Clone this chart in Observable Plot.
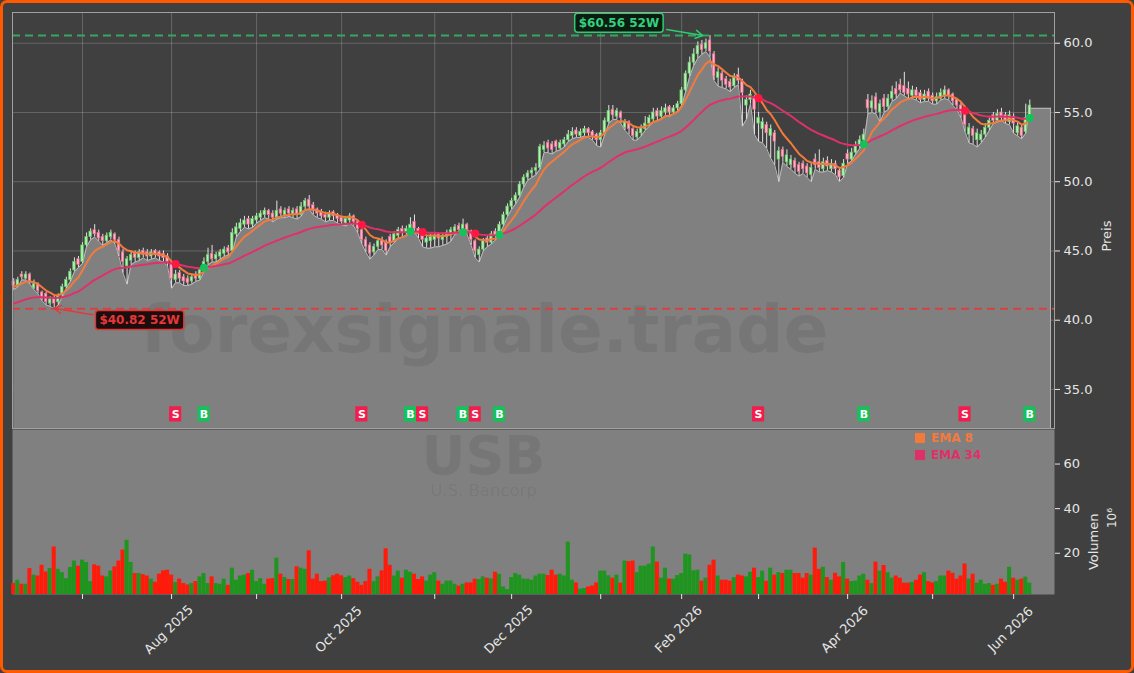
<!DOCTYPE html>
<html><head><meta charset="utf-8">
<script src="https://cdn.jsdelivr.net/npm/d3@7"></script>
<script src="https://cdn.jsdelivr.net/npm/@observablehq/plot@0.6"></script>
<style>
html,body{margin:0;padding:0;background:#404040;}
#fig{position:relative;width:1134px;height:673px;background:#404040;overflow:hidden;font-family:"DejaVu Sans",sans-serif;}
#fig svg{position:absolute;left:0;}
#border{position:absolute;left:0;top:0;width:1134px;height:673px;box-sizing:border-box;border:3px solid #ff5a00;border-radius:7px;pointer-events:none;}
.leg{position:absolute;left:915px;font-weight:bold;font-size:12px;display:flex;align-items:center;line-height:12px;}
.leg i{display:inline-block;width:10px;height:10px;margin-right:6px;}
</style></head><body><div id="fig"></div>
<script>
// ---------- data ----------
const firstDay = "2025-06-05";
const holidays = ["2025-06-19","2025-07-04","2025-09-01","2025-11-27","2025-12-25","2026-01-01","2026-01-19","2026-02-16","2026-04-03","2026-05-25"];
const open = [
42.8,42.5,43.3,43.0,43.3,42.3,42.6,42.0,41.9,41.2,
41.6,41.3,41.8,42.4,42.9,43.6,44.4,44.2,45.4,46.0,
46.5,46.3,46.0,45.7,46.0,46.2,45.8,44.9,43.9,44.3,
44.8,44.5,45.0,44.9,44.6,45.0,44.9,44.8,44.6,44.0,
42.9,43.4,43.1,43.0,42.8,43.3,43.0,43.6,44.2,44.8,
44.4,44.6,44.8,45.2,45.0,46.2,46.6,46.9,47.3,46.9,
47.2,47.4,47.6,47.9,47.7,47.4,48.0,47.6,48.0,47.6,
48.0,47.6,48.2,48.7,48.3,48.0,47.8,47.6,47.4,47.8,
47.6,47.4,47.0,47.2,47.5,47.1,46.5,45.8,45.4,44.9,
45.3,45.8,45.6,46.0,45.7,46.1,46.6,46.3,46.5,47.1,
46.6,46.2,45.6,45.7,45.8,46.2,45.8,46.0,46.2,46.4,
46.8,46.5,46.9,46.4,45.7,44.7,45.1,45.9,45.6,46.4,
46.3,46.9,47.6,48.2,48.6,49.0,49.8,50.3,50.6,50.8,
51.0,52.3,52.8,52.7,52.9,52.4,52.7,53.0,53.3,53.7,
53.3,53.5,53.8,53.6,53.4,53.0,53.5,54.3,55.2,54.7,
55.0,53.9,54.3,53.8,53.2,53.5,53.8,54.2,54.5,55.1,
54.7,55.0,55.4,55.0,55.3,55.6,56.6,57.8,58.6,59.2,
59.9,59.6,60.2,59.2,57.5,57.8,57.4,57.2,56.9,57.7,
57.2,55.5,55.9,56.0,54.2,53.8,54.1,53.3,53.5,51.6,
52.3,51.4,51.2,51.5,51.2,51.3,51.1,50.5,51.6,51.4,
50.9,51.5,50.9,51.3,50.8,50.4,52.0,51.6,52.1,52.6,
53.0,55.9,55.3,56.1,55.0,56.0,55.4,56.0,56.7,57.0,
56.9,56.7,56.2,56.6,56.4,55.9,56.5,56.2,55.8,56.0,
56.2,56.6,56.3,55.9,55.5,54.9,53.4,53.8,53.0,53.0,
53.4,53.9,54.8,54.4,55.0,54.8,54.3,54.7,53.5,53.9,
53.6,54.6];
const high = [
43.0,43.1,43.5,43.5,43.4,42.9,42.7,42.1,42.0,41.7,
41.8,41.9,42.6,43.1,43.7,44.5,44.6,45.6,46.3,46.6,
46.9,46.5,46.2,46.3,46.5,46.3,46.0,45.1,44.6,45.0,
45.0,45.1,45.2,45.1,45.1,45.1,45.0,45.0,44.8,44.2,
43.6,43.6,43.3,43.2,43.3,43.5,43.8,44.5,45.2,45.4,
44.9,45.1,45.3,45.4,46.6,47.0,47.3,47.5,47.5,47.5,
47.7,47.9,48.1,48.0,47.9,48.6,48.2,48.1,48.2,48.1,
48.2,48.5,48.8,49.0,48.5,48.1,48.0,47.8,47.9,47.9,
47.7,47.5,47.5,47.7,47.6,47.2,46.7,46.0,45.6,45.5,
45.9,46.0,45.8,46.2,46.4,46.7,46.8,46.8,47.4,47.6,
46.7,46.3,46.1,46.2,46.3,46.3,46.3,46.5,46.7,46.9,
47.0,47.3,47.0,46.5,45.8,45.3,45.9,46.1,46.4,46.6,
47.1,47.8,48.4,48.8,49.2,50.0,50.5,50.8,51.0,51.3,
52.7,52.9,53.0,52.9,53.0,53.0,53.2,53.7,53.9,53.9,
53.8,54.0,53.9,53.7,53.5,53.7,54.6,55.5,55.5,55.3,
55.1,54.5,54.4,53.9,53.8,54.1,54.7,54.8,55.3,55.3,
55.4,55.6,55.5,55.5,55.8,56.8,58.0,59.0,59.6,60.1,
60.2,60.3,60.56,59.4,58.2,58.0,57.6,57.4,57.8,58.2,
57.4,56.2,56.6,56.2,55.0,54.6,54.3,54.1,53.7,52.5,
52.5,52.3,51.9,51.7,51.4,51.5,51.3,51.3,52.0,52.3,
51.7,51.8,51.6,51.5,51.0,51.6,52.3,52.4,52.9,53.3,
53.8,56.3,56.2,56.4,55.9,56.3,56.3,56.9,57.2,57.4,
57.9,57.2,56.9,56.8,56.6,56.6,56.7,56.4,56.4,56.7,
56.9,56.7,56.4,56.0,55.7,55.1,54.2,54.0,53.8,53.7,
54.2,54.6,55.0,55.2,55.3,55.0,55.1,54.9,54.3,54.1,
55.6,55.9];
const low = [
42.2,42.4,42.9,42.9,42.6,42.2,41.9,41.4,41.1,41.0,
40.82,41.1,41.7,42.3,42.8,43.5,43.8,44.1,45.3,45.8,
46.0,45.7,45.4,45.6,45.8,45.5,44.6,43.4,42.6,44.0,
44.2,44.3,44.5,44.3,44.4,44.5,44.3,44.2,43.9,42.3,
42.7,42.7,42.5,42.5,42.6,42.8,42.9,43.5,44.0,44.2,
44.2,44.4,44.6,44.7,44.9,46.0,46.4,46.7,46.6,46.7,
47.0,47.2,47.4,47.3,47.1,47.3,47.4,47.4,47.5,47.4,
47.3,47.5,48.0,48.0,47.6,47.4,47.3,47.1,47.2,47.2,
47.0,46.9,46.8,47.0,46.8,46.3,45.5,44.9,44.4,44.7,
45.1,45.1,44.7,45.3,45.6,45.9,46.0,46.1,46.3,46.4,
45.9,45.3,45.2,45.2,45.3,45.3,45.4,45.5,45.7,46.2,
46.3,46.3,46.2,45.4,44.5,44.2,45.0,45.3,45.5,45.8,
46.2,46.8,47.5,48.0,48.4,48.9,49.6,50.1,50.3,50.5,
50.9,52.1,52.1,52.0,52.2,52.3,52.5,52.9,53.1,53.2,
53.2,53.3,53.2,53.0,52.6,52.5,53.4,54.2,54.5,54.5,
54.2,53.7,53.4,53.0,53.0,53.3,53.7,54.0,54.3,54.4,
54.5,54.8,54.7,54.9,55.1,55.5,56.5,57.6,58.4,58.9,
59.2,59.4,59.0,57.3,56.9,56.8,56.7,56.5,56.8,57.0,
54.0,54.5,55.6,53.4,52.9,52.8,52.4,51.7,51.2,50.0,
51.4,51.1,50.9,50.6,50.4,50.6,50.3,50.0,50.9,50.7,
50.7,50.8,50.7,50.5,50.0,50.3,51.3,51.5,52.0,52.4,
52.8,54.9,55.0,54.9,54.3,55.0,55.2,55.8,56.0,56.4,
56.2,56.0,56.0,55.9,55.7,55.8,55.8,55.6,55.6,55.9,
56.0,55.9,55.5,55.2,54.6,53.6,52.8,52.7,52.5,52.8,
53.2,53.7,54.2,54.3,54.4,54.2,54.1,53.5,53.3,53.1,
53.5,54.4];
const close = [
42.5,42.9,43.1,43.3,42.8,42.6,42.1,41.6,41.3,41.5,
41.2,41.7,42.4,42.9,43.5,44.2,44.0,45.4,46.0,46.4,
46.2,45.9,45.7,46.1,46.3,45.8,45.0,44.2,44.4,44.7,
44.5,44.9,44.7,44.6,44.9,44.7,44.6,44.5,44.2,43.0,
43.3,43.0,42.8,42.7,43.1,43.0,43.6,44.2,44.7,44.4,
44.7,44.9,45.1,44.9,46.3,46.7,47.0,47.2,46.9,47.3,
47.5,47.7,47.9,47.6,47.4,47.9,47.7,47.9,47.7,47.9,
47.6,48.2,48.6,48.2,47.9,47.7,47.5,47.4,47.7,47.5,
47.3,47.1,47.3,47.5,47.1,46.6,45.8,45.3,44.8,45.3,
45.7,45.4,45.0,45.6,46.2,46.5,46.3,46.6,46.9,46.6,
46.2,45.8,45.9,46.0,46.1,45.9,46.1,46.3,46.5,46.7,
46.5,46.9,46.5,45.8,45.0,45.1,45.7,45.6,46.2,46.1,
46.9,47.6,48.2,48.6,49.0,49.8,50.3,50.6,50.8,51.0,
52.5,52.6,52.4,52.3,52.5,52.8,53.0,53.4,53.6,53.4,
53.6,53.8,53.5,53.3,53.0,53.5,54.4,55.1,54.8,55.1,
54.6,54.3,53.8,53.3,53.6,53.9,54.2,54.6,55.0,54.7,
55.1,55.3,55.0,55.3,55.6,56.6,57.8,58.6,59.2,59.8,
59.5,60.0,59.4,57.6,57.9,57.3,57.0,56.8,57.5,57.3,
56.4,55.9,56.3,55.2,54.6,54.3,53.5,53.8,52.9,52.2,
51.8,51.9,51.6,51.0,50.7,50.9,50.6,51.0,51.2,51.0,
51.4,51.1,51.3,50.9,50.3,51.3,51.6,52.1,52.6,53.0,
53.4,55.3,55.8,55.2,55.6,55.4,56.0,56.5,56.3,56.6,
56.4,56.3,56.6,56.2,55.9,56.3,56.0,55.8,56.1,56.4,
56.6,56.2,55.8,55.5,55.0,54.1,53.9,53.3,53.5,53.4,
53.9,54.4,54.4,54.9,54.6,54.4,54.8,54.2,54.0,53.3,
54.6,55.5];
const volume = [
6.4,7.9,6.1,6.1,13.1,10.2,9.8,14.6,11.6,13.1,
22.8,12.8,11.3,8.6,13.6,16.5,14.2,16.9,15.9,7.3,
14.8,14.2,9.8,9.4,12.0,13.9,16.5,21.4,25.8,15.9,
10.9,10.9,10.4,9.8,8.4,7.0,10.6,12.1,12.4,10.2,
6.9,8.4,6.4,5.8,6.4,7.3,9.4,10.9,6.4,9.4,
6.4,6.1,8.4,5.6,13.3,7.9,9.8,10.2,10.9,12.4,
7.3,8.6,6.1,8.4,8.6,17.8,10.6,9.1,8.2,8.2,
13.9,13.3,12.8,21.1,8.4,10.6,7.3,7.5,9.0,9.9,
10.6,9.9,9.1,9.8,8.6,7.0,5.6,7.3,12.8,7.3,
9.4,12.1,22.0,14.6,9.8,12.0,8.8,12.4,11.5,10.6,
8.2,9.4,7.5,10.2,11.3,7.5,6.1,7.5,7.5,6.1,
5.3,6.1,6.7,6.7,8.4,8.2,9.4,8.8,8.5,11.5,
10.6,4.9,3.7,9.1,10.9,10.2,8.4,8.4,7.9,9.8,
10.6,10.6,10.0,12.4,10.2,10.6,9.8,25.0,7.9,6.7,
3.9,4.2,4.9,5.3,6.7,12.0,12.0,9.9,8.8,10.2,
6.6,16.5,16.2,16.5,11.3,14.2,14.2,15.1,22.8,16.0,
8.8,13.3,8.4,8.4,10.0,10.9,19.6,19.2,12.1,12.4,
7.5,8.8,14.6,16.9,9.8,7.9,7.9,7.5,9.1,10.2,
9.8,9.4,11.5,13.3,9.1,12.0,7.4,13.3,10.2,11.3,
10.9,12.4,12.4,10.9,10.9,8.8,10.9,10.2,22.3,12.8,
13.7,9.1,7.9,11.0,9.4,15.9,8.4,7.3,7.5,9.8,
10.6,7.9,6.4,16.0,12.0,14.5,11.3,8.8,9.8,8.8,
6.6,6.6,6.9,7.9,10.2,11.3,7.3,6.7,7.3,9.8,
9.8,12.0,11.0,8.4,9.8,15.2,8.4,10.6,6.6,7.9,
6.1,6.4,5.6,6.1,8.4,7.0,13.7,8.8,7.9,8.4,
9.3,6.6];
const areaTailIdx = [251, 256.1];
const areaTail = [55.3, 55.3];
const emaSeed = [42.4, 41.2];           // EMA 8, EMA 34 at first day
const sellIdx = [40, 86, 101, 114, 184, 235];
const buyIdx  = [47, 98, 111, 120, 210, 251];
const priceTicks = [35, 40, 45, 50, 55, 60];
const volTicks = [20, 40, 60];
const xTickLabels = ["Aug 2025","Oct 2025","Dec 2025","Feb 2026","Apr 2026","Jun 2026"];

// ---------- derived ----------
const n = Math.min(open.length, high.length, low.length, close.length, volume.length);
const dates = [];
{ let d = new Date(firstDay + "T00:00:00Z");
  while (dates.length < n) {
    const wd = d.getUTCDay(), s = d.toISOString().slice(0,10);
    if (wd !== 0 && wd !== 6 && !holidays.includes(s)) dates.push(new Date(d));
    d.setUTCDate(d.getUTCDate() + 1);
  } }
const fmt = d3.utcFormat("%b %Y");
const monthIdx = d3.range(1, n).filter(i => dates[i].getUTCMonth() !== dates[i-1].getUTCMonth());
const labeledIdx = monthIdx.filter(i => xTickLabels.includes(fmt(dates[i])));

function ema(vals, period, seed) {
  const k = 2 / (period + 1); let e = seed;
  return vals.map((v, i) => (e = i === 0 ? seed : k * v + (1 - k) * e));
}
const ema8 = ema(close.slice(0, n), 8, emaSeed[0]);
const ema34 = ema(close.slice(0, n), 34, emaSeed[1]);

const rows = d3.range(n).map(i => ({i, o: open[i], h: high[i], l: low[i], c: close[i], v: volume[i], up: close[i] >= open[i], e8: ema8[i], e34: ema34[i]}));
const areaRows = rows.slice(0, n - 1).map(r => ({i: r.i, y: r.l}))
  .concat(areaTailIdx.map((x, k) => ({i: x, y: areaTail[k]})));
const signals = sellIdx.map(i => ({i, t: "S"})).concat(buyIdx.map(i => ({i, t: "B"})));
const hiIdx = d3.maxIndex(high), loIdx = d3.minIndex(low);
const hi52 = high[hiIdx], lo52 = low[loIdx];

const xDom = [-0.3, 257.1];
const yDom = [32.18, 62.22];
const vDom = [1.5, 75.5];
const sigLevel = 33.2;
const txt = "#e6e6e6";
const C = {ema8: "#f47a3c", ema34: "#e0306a", buy: "#14c15a", sell: "#f21d4d",
  hi: "#35d07f", lo: "#e5383b"};
const baseStyle = {background: "transparent", color: txt, fontFamily: "DejaVu Sans", fontSize: "13px", overflow: "visible"};

// ---------- price panel ----------
const price = Plot.plot({
  width: 1134, height: 430, marginTop: 12, marginBottom: 2, marginLeft: 12, marginRight: 80,
  x: {domain: xDom, axis: null},
  y: {domain: yDom, axis: null},
  color: {type: "identity"},
  style: baseStyle,
  marks: [
    Plot.gridX(monthIdx, {stroke: "#ffffff", strokeOpacity: 0.2}),
    Plot.gridY(priceTicks, {stroke: "#ffffff", strokeOpacity: 0.2}),
    Plot.areaY(areaRows, {x: "i", y1: yDom[0], y2: "y", fill: "#808080"}),
    Plot.lineY(areaRows, {x: "i", y: "y", stroke: "#b9b9b9", strokeWidth: 1}),
    Plot.ruleX([areaTailIdx[1]], {y1: yDom[0], y2: areaTail[1], stroke: "#b9b9b9"}),
    Plot.text(["forexsignale.trade"], {text: d => d, frameAnchor: "middle", lineAnchor: "middle", dx: -49, dy: 110, fontSize: 66, fontWeight: "bold", fill: "#000000", fillOpacity: 0.08}),
    Plot.ruleX(rows, {x: "i", y1: "l", y2: "h", stroke: "#e2e2e2", strokeWidth: 1}),
    Plot.rect(rows, {x1: d => d.i - 0.3, x2: d => d.i + 0.3,
      y1: d => Math.min(d.o, d.c), y2: d => Math.max(d.o, d.c),
      fill: d => d.up ? "#b5efb5" : "#ffb3c6", stroke: d => d.up ? "#62d062" : "#ee6a8e", strokeWidth: 0.7}),
    Plot.lineY(rows, {x: "i", y: "e8", stroke: C.ema8, strokeWidth: 2}),
    Plot.lineY(rows, {x: "i", y: "e34", stroke: C.ema34, strokeWidth: 2}),
    Plot.ruleY([hi52], {stroke: "#34a85e", strokeWidth: 2, strokeDasharray: "8,5"}),
    Plot.ruleY([lo52], {stroke: "#d94040", strokeWidth: 2, strokeDasharray: "8,5"}),
    Plot.dot(signals, {x: "i", y: d => ema34[d.i], r: 4, fill: d => d.t === "B" ? C.buy : "#ff1744"}),
    Plot.rect(signals, {x1: d => d.i - 1.5, x2: d => d.i + 1.5, y1: sigLevel - 0.55, y2: sigLevel + 0.55, fill: d => d.t === "B" ? C.buy : C.sell}),
    Plot.text(signals, {x: "i", y: sigLevel, text: "t", fill: "#ffffff", fontWeight: "bold", fontSize: 11}),
    Plot.arrow([{x1: hiIdx - 10.7, y1: hi52 + 0.43, x2: hiIdx - 1.8, y2: hi52}], {x1: "x1", y1: "y1", x2: "x2", y2: "y2", stroke: "#2ecc71", strokeWidth: 1.5, headLength: 8}),
    Plot.arrow([{x1: loIdx + 9.5, y1: lo52 - 0.42, x2: loIdx, y2: lo52 + 0.05}], {x1: "x1", y1: "y1", x2: "x2", y2: "y2", stroke: "#e5383b", strokeWidth: 1.5, headLength: 8}),
    Plot.text([{x: hiIdx - 22.5, y: hi52 + 0.9, t: "$" + hi52.toFixed(2) + " 52W"}], {x: "x", y: "y", text: "t", fill: C.hi, fontWeight: "bold", fontSize: 12}),
    Plot.text([{x: loIdx + 21.1, y: lo52 - 0.82, t: "$" + lo52.toFixed(2) + " 52W"}], {x: "x", y: "y", text: "t", fill: C.lo, fontWeight: "bold", fontSize: 12}),
    Plot.frame({stroke: "#a0a0a0", strokeWidth: 1}),
    Plot.axisY({anchor: "right", ticks: priceTicks, tickFormat: d3.format(".1f"), tickSize: 5, fontSize: 13, label: null}),
    Plot.text(["Preis"], {text: d => d, frameAnchor: "right", lineAnchor: "middle", dx: 52, rotate: -90, fontSize: 13, fill: txt})
  ]
});

// ---------- volume panel ----------
const vol = Plot.plot({
  width: 1134, height: 244, marginTop: 0, marginBottom: 79, marginLeft: 12, marginRight: 80,
  x: {domain: xDom, axis: null},
  y: {domain: vDom, axis: null},
  color: {type: "identity"},
  style: baseStyle,
  marks: [
    Plot.frame({fill: "#808080"}),
    Plot.text(["USB"], {text: d => d, frameAnchor: "top", lineAnchor: "middle", dx: -50, dy: 27, fontSize: 54, fontWeight: "bold", fill: "#000000", fillOpacity: 0.08}),
    Plot.text(["U.S. Bancorp"], {text: d => d, frameAnchor: "top", lineAnchor: "middle", dx: -50, dy: 61, fontSize: 16.5, fill: "#000000", fillOpacity: 0.08}),
    Plot.rect(rows, {x1: d => d.i - 0.5, x2: d => d.i + 0.5, y1: vDom[0], y2: "v", fill: d => d.up ? "#1f951f" : "#ff1a0a"}),
    Plot.axisY({anchor: "right", ticks: volTicks, tickSize: 5, fontSize: 13, label: null}),
    Plot.axisX({ticks: monthIdx, tickSize: 5, tickFormat: () => "", label: null}),
    Plot.text(labeledIdx, {x: d => d, text: d => fmt(dates[d]), frameAnchor: "bottom", dy: 38, rotate: -45, fontSize: 13, fill: txt}),
    Plot.text(["Volumen"], {text: d => d, frameAnchor: "right", lineAnchor: "middle", dx: 39, dy: 1.5, rotate: -90, fontSize: 13, fill: txt}),
    Plot.text(["10\u2076"], {text: d => d, frameAnchor: "right", lineAnchor: "middle", dx: 58, dy: -4, rotate: -90, fontSize: 12, fill: txt})
  ]
});

const fig = document.getElementById("fig");
price.style.top = "0px";
vol.style.top = "429px";
fig.appendChild(price);
fig.appendChild(vol);

// legend
const leg = [["EMA 8", C.ema8, 432], ["EMA 34", C.ema34, 449]];
for (const [label, col, top] of leg) {
  const d = document.createElement("div");
  d.className = "leg"; d.style.top = top + "px"; d.style.color = col;
  d.innerHTML = `<i style="background:${col}"></i>${label}`;
  fig.appendChild(d);
}
const b = document.createElement("div"); b.id = "border"; fig.appendChild(b);

// boxes behind the 52W labels
d3.select(price).selectAll("text").filter(function() { return /52W$/.test(this.textContent); }).each(function() {
  const bb = this.getBBox();
  const isHi = this.textContent.startsWith("$" + hi52.toFixed(2));
  const r = document.createElementNS("http://www.w3.org/2000/svg", "rect");
  r.setAttribute("x", bb.x - 4); r.setAttribute("y", bb.y - 2.5);
  r.setAttribute("width", bb.width + 8); r.setAttribute("height", bb.height + 5);
  r.setAttribute("rx", 3);
  r.setAttribute("fill", isHi ? "#0b1d11" : "#1e0d0d");
  r.setAttribute("stroke", isHi ? "#2ecc71" : "#d93b3b");
  r.setAttribute("stroke-width", 1.5);
  const tr = this.getAttribute("transform"); if (tr) r.setAttribute("transform", tr);
  this.parentNode.insertBefore(r, this);
});
</script></body></html>
